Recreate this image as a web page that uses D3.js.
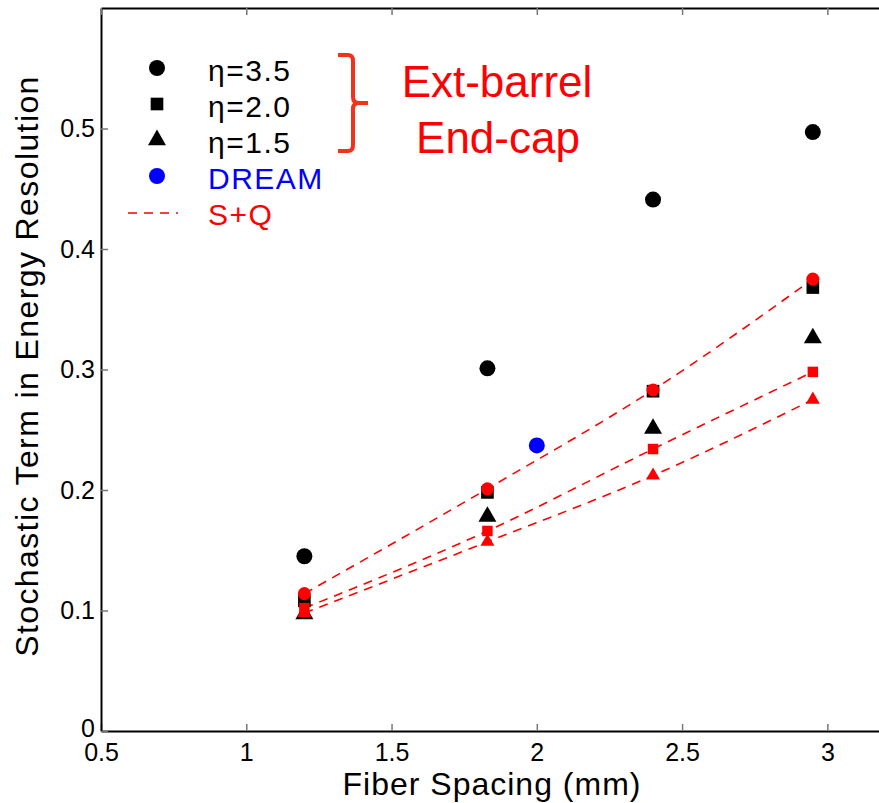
<!DOCTYPE html>
<html>
<head>
<meta charset="utf-8">
<script src="https://cdn.jsdelivr.net/npm/d3@7"></script>
<style>
  body { margin: 0; background: #fff; }
  svg text { font-family: "Liberation Sans", Arial, Helvetica, sans-serif; }
  .axis path, .axis line { stroke: #000; }
  .axis text { font-size: 25px; fill: #000; }
</style>
</head>
<body>
<div id="chart"></div>
<script>
// values
var fiberSpacing = [1.2, 1.83, 2.4, 2.95];
var eta35 = [0.145, 0.301, 0.441, 0.497];
var eta20 = [0.108, 0.198, 0.282, 0.368];
var eta15 = [0.097, 0.178, 0.251, 0.326];
var sqEta35 = [0.114, 0.201, 0.283, 0.375];
var sqEta20 = [0.102, 0.166, 0.234, 0.298];
var sqEta15 = [0.098, 0.157, 0.212, 0.275];
var dreamX = [2.0];
var dreamY = [0.237];
var xTicks = [0.5, 1, 1.5, 2, 2.5, 3];
var xTickLabels = ["0.5", "1", "1.5", "2", "2.5", "3"];
var yTicks = [0, 0.1, 0.2, 0.3, 0.4, 0.5];
var yTickLabels = ["0", "0.1", "0.2", "0.3", "0.4", "0.5"];
var legendLabels = ["\u03b7=3.5", "\u03b7=2.0", "\u03b7=1.5", "DREAM", "S+Q"];

function buildChart(section_id) {
    var margin = {top: 8, left: 101};
    var width = 799, height = 723;

    var xScale = d3.scaleLinear().domain([0.5, 3.25]).range([0, width]);
    var yScale = d3.scaleLinear().domain([0, 0.6]).range([height, 0]);

    var svg = d3.select(section_id).append("svg")
        .attr("width", 879)
        .attr("height", 803)
    .append("g")
        .attr("transform", "translate(" + margin.left + "," + margin.top + ")");

    function pts(xs, ys) {
        return xs.map(function(x, i) { return {x: x, y: ys[i]}; });
    }

    // axes, ticks inward like the original
    var xAxis = d3.axisBottom(xScale).tickValues(xTicks).tickSizeInner(-7).tickSizeOuter(0).tickPadding(12)
        .tickFormat(function(d, i) { return xTickLabels[i]; });
    var yAxis = d3.axisLeft(yScale).tickValues(yTicks).tickSizeInner(-7).tickSizeOuter(0).tickPadding(6)
        .tickFormat(function(d, i) { return yTickLabels[i]; });

    var gx = svg.append("g").attr("class", "axis axis--x")
        .attr("transform", "translate(0," + height + ")")
        .call(xAxis);
    var gy = svg.append("g").attr("class", "axis axis--y").call(yAxis);
    svg.append("g").attr("class", "axis")
        .call(d3.axisTop(xScale).tickValues(xTicks).tickSizeInner(-7).tickSizeOuter(0).tickFormat(""));
    svg.append("g").attr("class", "axis")
        .attr("transform", "translate(" + width + ",0)")
        .call(d3.axisRight(yScale).tickValues(yTicks).tickSizeInner(-7).tickSizeOuter(0).tickFormat(""));

    svg.selectAll(".axis path").style("stroke-width", "2px");
    svg.selectAll(".axis .tick line").style("stroke", "#777").style("stroke-width", "1.5px");
    gx.selectAll("text").attr("dy", "0.72em");
    gy.selectAll("text").attr("x", -6);
    gy.selectAll("text").filter(function(d) { return d === 0; }).attr("dy", "0.22em");

    // S+Q dashed curves
    var line = d3.line()
        .curve(d3.curveMonotoneX)
        .x(function(d) { return xScale(d.x); })
        .y(function(d) { return yScale(d.y); });
    [sqEta35, sqEta20, sqEta15].forEach(function(s) {
        svg.append("path")
            .attr("d", line(pts(fiberSpacing, s)))
            .style("fill", "none")
            .style("stroke", "#ff0000")
            .style("stroke-width", "1.6px")
            .style("stroke-dasharray", "9,7");
    });

    function drawSeries(data, type, size, color) {
        svg.append("g").selectAll("path")
            .data(data)
            .enter().append("path")
            .attr("transform", function(d) { return "translate(" + xScale(d.x) + "," + yScale(d.y) + ")"; })
            .attr("d", d3.symbol().type(type).size(size))
            .style("fill", color);
    }

    drawSeries(pts(fiberSpacing, eta35), d3.symbolCircle, 201, "#000");
    drawSeries(pts(fiberSpacing, eta20), d3.symbolSquare, 160, "#000");
    drawSeries(pts(fiberSpacing, eta15), d3.symbolTriangle, 140, "#000");
    drawSeries(pts(fiberSpacing, sqEta35), d3.symbolCircle, 133, "#ff0000");
    drawSeries(pts(fiberSpacing, sqEta20), d3.symbolSquare, 110, "#ff0000");
    drawSeries(pts(fiberSpacing, sqEta15), d3.symbolTriangle, 85, "#ff0000");
    drawSeries(pts(dreamX, dreamY), d3.symbolCircle, 201, "#0000ff");

    // axis titles
    svg.append("text")
        .attr("x", 492 - margin.left)
        .attr("y", 795 - margin.top)
        .attr("text-anchor", "middle")
        .style("font-size", "32px")
        .style("letter-spacing", "1px")
        .text("Fiber Spacing (mm)");
    svg.append("text")
        .attr("transform", "translate(" + (38 - margin.left) + "," + (366 - margin.top) + ") rotate(-90)")
        .attr("text-anchor", "middle")
        .style("font-size", "32px")
        .style("letter-spacing", "1.4px")
        .text("Stochastic Term in Energy Resolution");

    // legend (page coords)
    var legend = d3.select(section_id).select("svg").append("g");
    var legendSymbols = [
        {type: d3.symbolCircle, size: 201, color: "#000"},
        {type: d3.symbolSquare, size: 160, color: "#000"},
        {type: d3.symbolTriangle, size: 140, color: "#000"},
        {type: d3.symbolCircle, size: 201, color: "#0000ff"}
    ];
    var legendColors = ["#000", "#000", "#000", "#0000ff", "#ff0000"];
    legendSymbols.forEach(function(s, i) {
        legend.append("path")
            .attr("transform", "translate(157," + (68 + i * 36) + ")")
            .attr("d", d3.symbol().type(s.type).size(s.size))
            .style("fill", s.color);
    });
    legend.append("line")
        .attr("x1", 128).attr("x2", 178)
        .attr("y1", 213).attr("y2", 213)
        .style("stroke", "#ff0000")
        .style("stroke-width", "1.6px")
        .style("stroke-dasharray", "9,7");
    legend.selectAll(".legend-label")
        .data(legendLabels)
        .enter().append("text")
        .attr("class", "legend-label")
        .attr("x", 208)
        .attr("y", function(d, i) { return 81 + i * 36; })
        .style("font-size", "30px")
        .style("letter-spacing", "1.5px")
        .style("fill", function(d, i) { return legendColors[i]; })
        .text(function(d) { return d; });

    // bracket and region labels
    legend.append("path")
        .attr("d", "M338,55 L348,55 Q353,55 353,61 L353,97 Q353,103 359,103 L368,103 M359,103 Q353,103 353,109 L353,145 Q353,151 348,151 L338,151")
        .style("fill", "none")
        .style("stroke", "#f0321e")
        .style("stroke-width", "4px");
    legend.append("text")
        .attr("x", 497).attr("y", 97)
        .attr("text-anchor", "middle")
        .style("font-size", "44px")
        .style("fill", "#ff0000")
        .text("Ext-barrel");
    legend.append("text")
        .attr("x", 498).attr("y", 153)
        .attr("text-anchor", "middle")
        .style("font-size", "44px")
        .style("fill", "#ff0000")
        .text("End-cap");
}

buildChart("#chart");
</script>
</body>
</html>
